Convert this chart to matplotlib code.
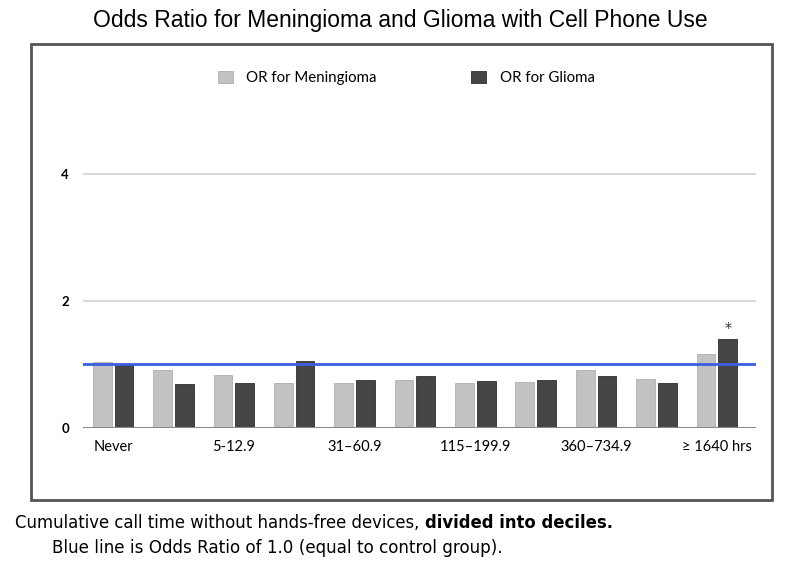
import matplotlib
matplotlib.use('Agg')
import matplotlib.pyplot as plt
from matplotlib.patches import Rectangle
import numpy as np

# Deciles of cumulative call time (hrs)
groups = ['Never', '<5', '5-12.9', '13-30.9', '31–60.9', '61-114.9',
          '115–199.9', '200-359.9', '360–734.9', '735-1639.9', '≥ 1640 hrs']
# only every other group is labelled on the axis
tick_labels = ['Never', '', '5-12.9', '', '31–60.9', '',
               '115–199.9', '', '360–734.9', '', '≥ 1640 hrs']
or_meningioma = [1.03, 0.91, 0.83, 0.70, 0.70, 0.76, 0.70, 0.72, 0.91, 0.77, 1.17]
or_glioma = [0.99, 0.69, 0.70, 1.05, 0.75, 0.81, 0.73, 0.76, 0.82, 0.70, 1.40]
y_ticks = [0, 2, 4]

W, H = 800, 565
fig = plt.figure(figsize=(8, 5.65), dpi=100)

# axes placed in pixel terms of the reference
ax_left, ax_right = 83, 756
ax_bottom, ax_top = 427.7, 110.7
ax = fig.add_axes([ax_left / W, 1 - ax_bottom / H,
                   (ax_right - ax_left) / W, (ax_bottom - ax_top) / H])

x = np.arange(len(groups))
bw = 0.31
off = 0.18
ax.bar(x - off, or_meningioma, width=bw, color='#c2c2c2', edgecolor='#b0b0b0',
       linewidth=0.6, zorder=3, label='OR for Meningioma')
ax.bar(x + off, or_glioma, width=bw, color='#454545', edgecolor='#2e2e2e',
       linewidth=0.6, zorder=3, label='OR for Glioma')

# significance marker
ax.text(x[-1] + off, or_glioma[-1] + 0.06, '*', ha='center', va='bottom',
        fontsize=10, color='#333333', zorder=5)

ax.set_xlim(-0.5, 10.65)
ax.set_ylim(0, 5.0)

# gridlines and reference line
for yv in y_ticks[1:]:
    ax.axhline(yv, color='#dadada', linewidth=1.5, zorder=1)
ax.axhline(0, color='#8a8a8a', linewidth=1.5, zorder=4)
ax.axhline(1.0, color='#3a5ee0', linewidth=2, zorder=4)

ax.set_yticks(y_ticks)
ax.set_yticklabels([str(v) for v in y_ticks], fontsize=9.5, family='Lato',
                   fontweight='bold')
ax.set_xticks(x)
ax.set_xticklabels(tick_labels, fontsize=10.5, family='Lato')
ax.tick_params(length=0, pad=9)
ax.tick_params(axis='y', pad=10)
for s in ax.spines.values():
    s.set_visible(False)
ax.patch.set_alpha(0)

# legend
ax.legend(loc='center', bbox_to_anchor=((406 - ax_left) / (ax_right - ax_left), 1.103),
          ncol=2, frameon=False, handlelength=1.0, handleheight=0.9,
          columnspacing=6.3, handletextpad=0.9, prop={'family': 'Lato', 'size': 10.8})

# outer frame
fig.patches.append(Rectangle((31 / W, 1 - 500 / H), (772 - 31) / W, (500 - 44) / H,
                             transform=fig.transFigure, fill=False,
                             edgecolor='#555555', linewidth=2))

fig.text(400 / W, 1 - 21 / H, 'Odds Ratio for Meningioma and Glioma with Cell Phone Use',
         ha='center', va='center', fontsize=16.5, family='Liberation Sans')

# footer notes, part of the first line is bold
r = fig.canvas.get_renderer()
t1 = fig.text(15 / W, 1 - 523 / H, 'Cumulative call time without hands-free devices, ',
              ha='left', va='center', fontsize=11.9, family='DejaVu Sans')
bb = t1.get_window_extent(renderer=r)
fig.text(bb.x1 / W, 1 - 523 / H, 'divided into deciles.', ha='left', va='center',
         fontsize=11.9, family='DejaVu Sans', fontweight='bold')
fig.text(52 / W, 1 - 548 / H, 'Blue line is Odds Ratio of 1.0 (equal to control group).',
         ha='left', va='center', fontsize=12.1, family='DejaVu Sans')

fig.savefig('out.png', dpi=100)
